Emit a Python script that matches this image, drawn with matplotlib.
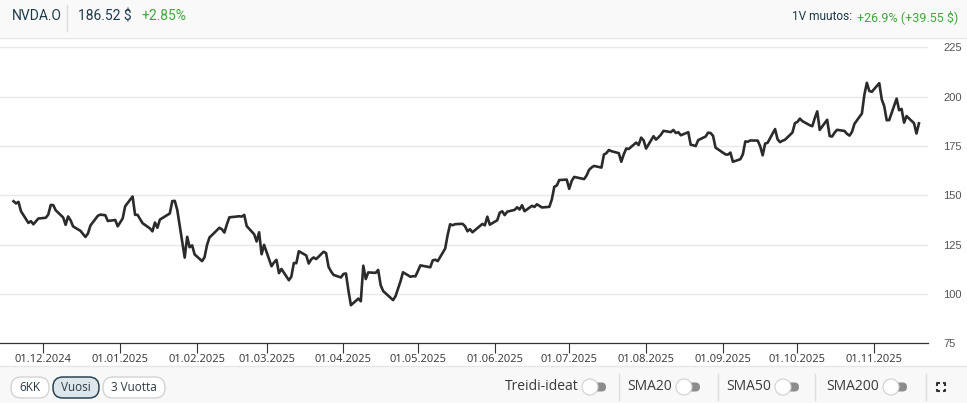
import numpy as np
import pandas as pd
import matplotlib
matplotlib.use("Agg")
import matplotlib.pyplot as plt
import matplotlib.dates as mdates
from matplotlib.patches import FancyBboxPatch, Circle, Rectangle

#%% data: NVDA.O daily close, 19.11.2024 - 19.11.2025
holidays = ["2024-11-28", "2024-12-25", "2025-01-01", "2025-01-09", "2025-01-20",
            "2025-02-17", "2025-04-18", "2025-05-26", "2025-06-19", "2025-07-04",
            "2025-09-01"]

close_nov24 = [147.01, 145.89, 146.67, 141.95, 136.02, 136.92, 135.34, 138.25]
close_dec24 = [138.63, 140.26, 145.14, 145.06, 142.44, 138.81, 135.07, 139.31, 137.34, 134.25,
               132.00, 130.39, 128.91, 130.68, 134.70, 139.67, 140.22, 139.93, 137.01, 137.49,
               134.29]
close_jan25 = [138.31, 144.47, 149.43, 140.14, 140.11, 135.91, 133.23, 131.76, 136.24, 133.57,
               137.71, 140.83, 147.07, 147.22, 142.62, 118.42, 128.99, 123.70, 124.65, 120.07]
close_feb25 = [116.66, 118.65, 124.83, 128.68, 129.84, 133.57, 132.80, 131.14, 135.29, 138.85,
               139.40, 139.23, 140.11, 134.43, 130.28, 126.63, 131.28, 120.15, 124.92]
close_mar25 = [114.06, 115.99, 117.30, 110.57, 112.69, 106.98, 108.76, 115.74, 115.58, 121.67,
               119.53, 115.43, 117.52, 118.53, 117.70, 121.41, 120.69, 113.76, 111.43, 109.67,
               108.38]
close_apr25 = [110.15, 110.42, 101.80, 94.31, 97.64, 96.30, 114.33, 107.57, 110.93, 110.71,
               112.20, 104.49, 101.49, 96.91, 98.89, 102.71, 106.43, 111.01, 108.73, 109.02,
               108.92]
close_may25 = [111.61, 114.50, 113.82, 113.54, 117.06, 117.37, 116.65, 123.00, 129.93, 135.34,
               134.83, 135.40, 135.57, 134.38, 131.80, 132.83, 131.29, 135.50, 134.81, 139.19,
               135.13]
close_jun25 = [137.38, 141.22, 141.92, 139.99, 141.72, 142.63, 143.96, 142.83, 145.00, 141.97,
               144.69, 144.12, 145.48, 143.85, 144.17, 147.90, 154.31, 155.02, 157.75, 157.99]
close_jul25 = [153.30, 157.25, 159.34, 158.24, 160.00, 162.88, 164.10, 164.92, 164.07, 170.70,
               171.37, 173.00, 172.41, 171.38, 167.03, 170.78, 173.74, 173.50, 176.75, 175.51,
               179.27, 177.87]
close_aug25 = [173.72, 180.00, 178.26, 179.42, 180.77, 182.70, 182.06, 183.16, 181.59, 182.02,
               180.45, 182.01, 175.64, 175.40, 174.98, 177.99, 179.81, 181.77, 181.60, 180.17,
               174.18]
close_sep25 = [170.78, 170.62, 171.66, 167.02, 168.31, 170.76, 177.33, 177.17, 177.82, 177.75,
               174.88, 170.29, 176.24, 176.67, 183.61, 178.43, 176.97, 177.69, 178.19, 181.85,
               186.58]
close_oct25 = [187.24, 188.89, 187.62, 185.54, 185.04, 189.11, 192.57, 183.16, 188.32, 180.03,
               179.83, 181.81, 183.22, 182.64, 181.16, 180.28, 182.16, 186.26, 191.49, 201.03,
               207.04, 202.89, 202.49]
close_nov25 = [206.88, 198.69, 195.21, 188.08, 188.15, 199.05, 193.16, 193.80, 186.86, 190.17,
               186.60, 181.36, 186.52]

yticks = [75, 100, 125, 150, 175, 200, 225]
xtick_dates = ["2024-12-01", "2025-01-01", "2025-02-01", "2025-03-01", "2025-04-01",
               "2025-05-01", "2025-06-01", "2025-07-01", "2025-08-01", "2025-09-01",
               "2025-10-01", "2025-11-01"]

closes = (close_nov24 + close_dec24 + close_jan25 + close_feb25 + close_mar25 + close_apr25
          + close_may25 + close_jun25 + close_jul25 + close_aug25 + close_sep25 + close_oct25
          + close_nov25)
dates = pd.bdate_range("2024-11-19", "2025-11-19", freq="C", holidays=holidays)
df = pd.DataFrame({"fecha": dates, "close": closes})

#%% figure
W, H = 967, 403
fig = plt.figure(figsize=(W / 100, H / 100), dpi=100)
fig.patch.set_facecolor("white")

DARK = "#1d3a4a"
GREEN = "#3fa83a"
HEAD = ["Roboto", "DejaVu Sans"]

# overlay in pixel coordinates for the page chrome
bg = fig.add_axes([0, 0, 1, 1], zorder=0)
bg.set_xlim(0, W)
bg.set_ylim(H, 0)
bg.axis("off")

# header bar
bg.add_patch(Rectangle((0, 0), W, 37, facecolor="#f9f9f9", edgecolor="none"))
bg.plot([0, W], [37.5, 37.5], color="#e6e6e6", lw=1)
bg.plot([67, 67], [5, 31], color="#dcdcdc", lw=1)
bg.text(12, 16, "NVDA.O", family=HEAD, fontsize=10, color=DARK, va="center", ha="left")
bg.text(78, 16, "186.52 $", family=HEAD, fontsize=10, color=DARK, va="center", ha="left")
bg.text(141, 16, "+2.85%", family=HEAD, fontsize=10, color=GREEN, va="center", ha="left")
bg.text(852, 17, "1V muutos:", family=HEAD, fontsize=8.6, color=DARK, va="center", ha="right")
bg.text(958, 17, "+26.9% (+39.55 $)", family=HEAD, fontsize=9, color=GREEN,
        va="center", ha="right")

# bottom bar
bg.add_patch(Rectangle((0, 366), W, H - 366, facecolor="#f8f8f8", edgecolor="none"))
bg.plot([0, W], [366, 366], color="#e6e6e6", lw=1)

botones = [("6KK", 11, 49, False), ("Vuosi", 53, 99, True), ("3 Vuotta", 103, 165, False)]
for txt, x0, x1, sel in botones:
    bg.add_patch(FancyBboxPatch((x0, 377), x1 - x0, 21,
                                boxstyle="round,pad=0,rounding_size=10",
                                facecolor="#dde6ea" if sel else "white",
                                edgecolor="#2d4552" if sel else "#cfcfcf",
                                lw=1.1 if sel else 0.9))
    bg.text((x0 + x1) / 2, 387.5, txt, family="Open Sans", fontsize=8.5, color="#2b3a44",
            ha="center", va="center")

toggles = [("Treidi-ideat", 579, 590), ("SMA20", 672, 684), ("SMA50", 771, 783), ("SMA200", 879, 891)]
for txt, xr, xc in toggles:
    bg.text(xr, 387, txt, family="Open Sans", fontsize=10, color="#3a3a3a",
            ha="right", va="center")
    bg.add_patch(FancyBboxPatch((xc, 382.5), 16, 9, boxstyle="round,pad=0,rounding_size=4.5",
                                facecolor="#8c8c8c", edgecolor="none"))
    bg.add_patch(Circle((xc, 387), 8, facecolor="white", edgecolor="#d0d0d0", lw=0.8, zorder=3))
for xd in [619, 718, 815, 926]:
    bg.plot([xd, xd], [374, 400], color="#dedede", lw=1)

# expand icon
cx, cy, s, k = 941, 387, 4, 2.5
for sx in (-1, 1):
    for sy in (-1, 1):
        bg.plot([cx + sx * s, cx + sx * s, cx + sx * (s - k)],
                [cy + sy * (s - k), cy + sy * s, cy + sy * s], color="#333333", lw=1.5,
                solid_capstyle="butt")

#%% price chart
y_top, y_bot, x_right = 47.4, 343.3, 928
ax = fig.add_axes([0, (H - y_bot) / H, x_right / W, (y_bot - y_top) / H], zorder=1)
ax.set_facecolor("none")
ax.plot(df["fecha"], df["close"], color="#2b2b2b", lw=1.9, solid_joinstyle="round")

dia0 = pd.Timestamp("2024-12-01")
px_dia = 2.4806
ax.set_xlim(mdates.date2num(dia0 - pd.Timedelta(days=43.3 / px_dia)),
            mdates.date2num(dia0 + pd.Timedelta(days=(x_right - 43.3) / px_dia)))
ax.set_ylim(75, 225)

ax.set_yticks(yticks)
ax.yaxis.tick_right()
ax.tick_params(axis="y", length=0, pad=11, labelsize=8, labelcolor="#555555")
for lab in ax.get_yticklabels():
    lab.set_family("Liberation Sans")
    lab.set_horizontalalignment("left")
ax.grid(axis="y", color="#e8e8e8", lw=1)
ax.set_axisbelow(True)

ax.set_xticks([mdates.date2num(pd.Timestamp(d)) for d in xtick_dates])
ax.xaxis.set_major_formatter(mdates.DateFormatter("%d.%m.%Y"))
ax.tick_params(axis="x", length=7, width=0.8, color="#333333", pad=0.5, labelsize=8,
               labelcolor="#333333")
for lab in ax.get_xticklabels():
    lab.set_family("Open Sans")

for lado in ["top", "right", "left"]:
    ax.spines[lado].set_visible(False)
ax.spines["bottom"].set_color("#333333")
ax.spines["bottom"].set_linewidth(0.9)

fig.savefig("out.png", dpi=100, facecolor=fig.get_facecolor())
